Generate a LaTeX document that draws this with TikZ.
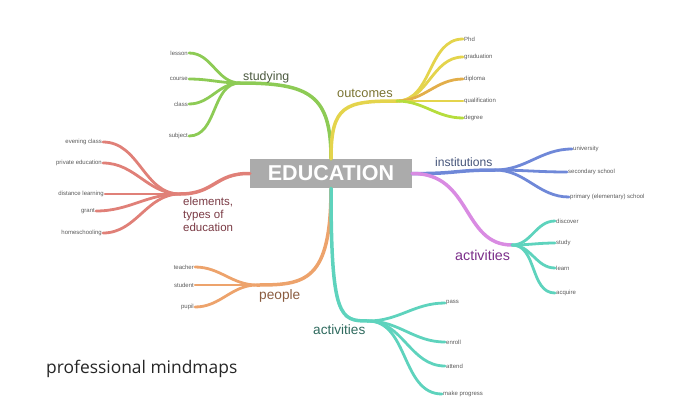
\documentclass[tikz,border=0pt]{standalone}
\usepackage{fontspec}
\setmainfont{Liberation Sans}
\newfontfamily\brandfont{Open Sans}
\usepackage{tikz}
\usetikzlibrary{positioning}

\definecolor{edugray}{HTML}{ABABAB}
\definecolor{leafgray}{HTML}{5A5A5A}
\definecolor{studygreen}{HTML}{8DCB55}
\definecolor{outyellow}{HTML}{E4D44C}
\definecolor{outorange}{HTML}{E2AE4A}
\definecolor{instblue}{HTML}{6F88D8}
\definecolor{actpurple}{HTML}{D98BE2}
\definecolor{elemred}{HTML}{E08078}
\definecolor{peopleorange}{HTML}{EDA36C}
\definecolor{actteal}{HTML}{5ED3BD}
\definecolor{studytext}{HTML}{4C5A40}
\definecolor{outtext}{HTML}{7A7432}
\definecolor{insttext}{HTML}{46557A}
\definecolor{purpletext}{HTML}{7B2E8A}
\definecolor{elemtext}{HTML}{7A3A44}
\definecolor{peopletext}{HTML}{8A5C40}
\definecolor{tealtext}{HTML}{2F6A5E}

\tikzset{
	branch/.style={line width=3.5pt, line cap=round},
	twig/.style={line width=2.8pt, line cap=round},
	leafR/.style={anchor=west, inner sep=1pt, text=leafgray,
		font=\fontsize{6}{7}\selectfont},
	leafL/.style={anchor=east, inner sep=1pt, text=leafgray,
		font=\fontsize{6}{7}\selectfont},
	topic/.style={anchor=west, inner sep=0pt}
}

\begin{document}
\begin{tikzpicture}[x=1pt,y=-1pt]
			\useasboundingbox (0,0) rectangle (680,408);

			% Education
			\node [fill=edugray,
				minimum width=162pt,
				minimum height=29pt,
				text=white,
				font=\bfseries\fontsize{21.5}{24}\selectfont
				] (edu) at (331,173.5) {EDUCATION};

			% Hubs
			\coordinate (sh) at (240,83);
			\coordinate (oh) at (397,101);
			\coordinate (ih) at (495,170);
			\coordinate (ah) at (512,245);
			\coordinate (eh) at (180,194);
			\coordinate (ph) at (257,285);
			\coordinate (th) at (368,321);

			% Branches
			\draw[branch,studygreen] (edu.north) .. controls (331,95) and (310,83) .. (sh);
			\draw[branch,outyellow] (edu.north) .. controls (331,105) and (345,101) .. (oh);
			\draw[branch,instblue] (edu.east) .. controls (455,174) and (455,170) .. (ih);
			\draw[branch,actpurple] (edu.east) .. controls (472,173) and (462,245) .. (ah);
			\draw[branch,elemred] (edu.west) .. controls (215,173) and (215,194) .. (eh);
			\draw[branch,peopleorange] (edu.south) .. controls (331,282) and (305,285) .. (ph);
			\draw[branch,actteal] (edu.south) .. controls (331,318) and (340,321) .. (th);

			% Studying
			\node [topic,
				text=studytext,
				font=\fontsize{12.4}{14}\selectfont
				] (studying) at (243,77) {studying};
			\node [leafL] (lesson) at (189,53) {lesson};
			\node [leafL] (course) at (189,79) {course};
			\node [leafL] (class) at (189,104) {class};
			\node [leafL] (subject) at (189,136) {subject};
			\foreach \n in {lesson,course,class,subject}
				\draw[twig,studygreen] (sh) to[out=180,in=0] (\n.east);

			% Outcomes
			\node [topic,
				text=outtext,
				font=\fontsize{12.8}{14}\selectfont
				] (outcomes) at (337,93) {outcomes};
			\node [leafR] (phd) at (463,39) {Phd};
			\node [leafR] (graduation) at (463,57) {graduation};
			\node [leafR] (diploma) at (463,79) {diploma};
			\node [leafR] (qualification) at (463,101) {qualification};
			\node [leafR] (degree) at (463,118) {degree};
			\draw[twig,outyellow] (oh) to[out=0,in=180] (phd.west);
			\draw[twig,outyellow] (oh) to[out=0,in=180] (graduation.west);
			\draw[twig,outorange] (oh) to[out=0,in=180] (diploma.west);
			\draw[twig,outyellow] (oh) to[out=0,in=180] (qualification.west);
			\draw[twig,outyellow!80!green] (oh) to[out=0,in=180] (degree.west);

			% Institutions
			\node [topic,
				text=insttext,
				font=\fontsize{12.1}{14}\selectfont
				] (institutions) at (435,162) {institutions};
			\node [leafR] (university) at (572,149) {university};
			\node [leafR] (secondary) at (567,172) {secondary school};
			\node [leafR] (primary) at (569,197) {primary (elementary) school};
			\foreach \n in {university,secondary,primary}
				\draw[twig,instblue] (ih) to[out=0,in=180] (\n.west);

			% Activities (right)
			\node [topic,
				text=purpletext,
				font=\fontsize{14.3}{16}\selectfont
				] (actright) at (455,255) {activities};
			\node [leafR] (discover) at (555,221) {discover};
			\node [leafR] (study) at (555,243) {study};
			\node [leafR] (learn) at (555,268) {learn};
			\node [leafR] (acquire) at (555,293) {acquire};
			\foreach \n in {discover,study,learn,acquire}
				\draw[twig,actteal] (ah) to[out=0,in=180] (\n.west);

			% Elements, types of education
			\node [anchor=north west,
				inner sep=0pt,
				align=left,
				text=elemtext,
				font=\fontsize{11.5}{13}\selectfont
				] (elements) at (183,197) {elements,\\types of\\education};
			\node [leafL] (evening) at (103,142) {evening class};
			\node [leafL] (private) at (103,163) {private education};
			\node [leafL] (distance) at (105,194) {distance learning};
			\node [leafL] (grant) at (96,211) {grant};
			\node [leafL] (homeschool) at (103,233) {homeschooling};
			\foreach \n in {evening,private,distance,grant,homeschool}
				\draw[twig,elemred] (eh) to[out=180,in=0] (\n.east);

			% People
			\node [topic,
				text=peopletext,
				font=\fontsize{13.7}{16}\selectfont
				] (people) at (259,296) {people};
			\node [leafL] (teacher) at (195,267) {teacher};
			\node [leafL] (student) at (195,285) {student};
			\node [leafL] (pupil) at (195,307) {pupil};
			\foreach \n in {teacher,student,pupil}
				\draw[twig,peopleorange] (ph) to[out=180,in=0] (\n.east);

			% Activities (bottom)
			\node [topic,
				text=tealtext,
				font=\fontsize{13.6}{16}\selectfont
				] (actbottom) at (313,330) {activities};
			\node [leafR] (pass) at (445,303) {pass};
			\node [leafR] (enroll) at (445,342) {enroll};
			\node [leafR] (attend) at (445,366) {attend};
			\node [leafR] (progress) at (442,394) {make progress};
			\foreach \n in {pass,enroll,attend,progress}
				\draw[twig,actteal] (th) to[out=0,in=180] (\n.west);

			% Brand
			\node [anchor=west,
				inner sep=0pt,
				text=black!85,
				font=\brandfont\fontsize{17.4}{20}\selectfont
				] (brand) at (46,369) {professional mindmaps};

		\end{tikzpicture}
\end{document}
